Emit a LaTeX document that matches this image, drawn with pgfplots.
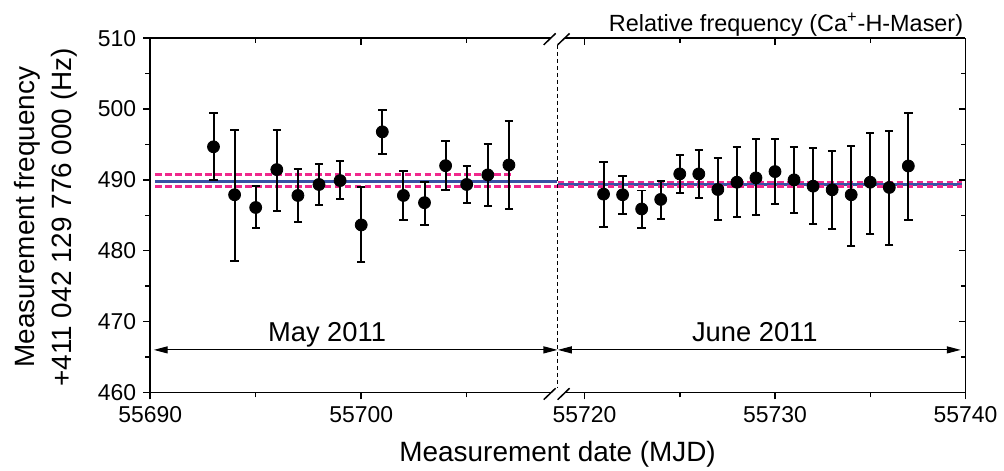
\documentclass[border=0pt]{standalone}
\usepackage{fontspec}
\setmainfont{Liberation Sans}
\usepackage{pgfplots}
\usepackage{pgfplotstable}
\pgfplotsset{compat=1.18}
\usetikzlibrary{arrows.meta}

\definecolor{meanblue}{HTML}{3A52A4}
\definecolor{sdpink}{HTML}{F0288C}

\newcommand\tickfont{\fontsize{11.5}{13}\selectfont}
\newcommand\labfont{\fontsize{14}{16}\selectfont}
\newcommand\monthfont{\fontsize{13.7}{16}\selectfont}
\newcommand\titlefont{\fontsize{11.75}{13}\selectfont}

% May 2011 measurements
\pgfplotstableread{
x y ep em
55693 494.67 4.73 4.67
55694 487.90 9.20 9.33
55695 486.10 2.97 2.92
55696 491.45 5.65 5.80
55697 487.80 3.74 3.73
55698 489.35 2.89 2.90
55699 489.90 2.76 2.61
55700 483.64 5.38 5.30
55701 496.78 3.12 3.14
55702 487.80 3.51 3.41
55703 486.78 2.89 3.09
55704 492.00 3.42 3.45
55705 489.35 2.66 2.62
55706 490.70 4.39 4.39
55707 492.10 6.22 6.21
}\maydata

% June 2011 measurements
\pgfplotstableread{
x y ep em
55721 487.99 4.53 4.58
55722 487.90 2.61 2.76
55723 485.89 2.61 2.67
55724 487.24 2.66 2.71
55725 490.84 2.66 2.66
55726 490.84 3.41 3.46
55727 488.64 4.49 4.34
55728 489.67 4.91 4.90
55729 490.28 5.42 5.28
55730 491.17 4.53 4.63
55731 490.00 4.67 4.63
55732 489.11 5.38 5.37
55733 488.60 5.51 5.56
55734 487.90 6.91 7.21
55735 489.67 7.01 7.30
55736 488.93 7.94 8.06
55737 491.96 7.53 7.61
}\junedata

\pgfplotsset{
  brk/.style={
    scale only axis, anchor=south west, height=177.7pt,
    ymin=460, ymax=510, ytick={460,470,...,510}, minor y tick num=1,
    scaled x ticks=false, scaled y ticks=false,
    /pgf/number format/1000 sep={},
    /pgf/number format/assume math mode=true,
    tick label style={font=\tickfont},
    major tick length=3.5pt, minor tick length=2.5pt,
    axis line style={line width=0.75pt, black},
    tick style={line width=0.75pt, black},
    clip=false,
  },
  % bottom axis: ticks point out, labels below
  brkmain/.style={brk, axis x line*=bottom, xtick pos=lower,
    xticklabel pos=lower, xtick align=outside},
  % top axis: ticks point in, no labels
  brktop/.style={brk, axis x line*=top, axis y line=none, xtick pos=upper,
    xtick align=inside, xticklabels={}, ytick=\empty},
  meanline/.style={meanblue, line width=1.3pt},
  sdline/.style={sdpink, line width=1.3pt, dash pattern=on 3.3pt off 1.7pt},
  datapts/.style={only marks, mark=*, mark size=3pt, black,
    mark options={fill=black},
    error bars/.cd, y dir=both, y explicit,
    error bar style={line width=1pt, black},
    error mark options={rotate=90, mark size=2.1pt, line width=1pt, black}},
}
\tikzset{arr/.style={line width=0.6pt,
  {Triangle[length=7pt,width=3.5pt]}-{Triangle[length=7pt,width=3.5pt]}}}

\begin{document}
\begin{tikzpicture}
\begin{scope}[x=0.5pt,y=-0.5pt]
\useasboundingbox (0,0) rectangle (1004,472);
\end{scope}

% left part (May)
\begin{axis}[brktop, at={(75.35pt,-196.85pt)}, width=204.3pt,
  xmin=55690, xmax=55709.3, xtick={55690,55700}, minor xtick={55695,55705}]
\end{axis}
\begin{axis}[brkmain, at={(75.35pt,-196.85pt)}, width=204.3pt,
  xmin=55690, xmax=55709.3,
  axis y line*=left, ytick pos=left, ytick align=outside,
  xtick={55690,55700}, minor xtick={55695,55705}]
  \addplot[meanline] coordinates {(55690.25,489.74) (55709.3,489.74)};
  \addplot[sdline] coordinates {(55690.25,490.73) (55707.15,490.73)};
  \addplot[sdline] coordinates {(55690.25,489.04) (55709.3,489.04)};
  \addplot[datapts] table[x=x, y=y, y error plus=ep, y error minus=em] {\maydata};
  \draw[arr] (axis cs:55690.17,466) -- (axis cs:55709.3,466);
  \node[anchor=base, font=\monthfont] at (axis cs:55698.38,467.2) {May 2011};
\end{axis}

% right part (June)
\begin{axis}[brktop, at={(279.85pt,-196.85pt)}, width=204.5pt,
  xmin=55718.6, xmax=55740, xtick={55720,55730,55740}, minor xtick={55725,55735}]
\end{axis}
\begin{axis}[brkmain, at={(279.85pt,-196.85pt)}, width=204.5pt,
  xmin=55718.6, xmax=55740,
  axis y line*=right, ytick pos=right, ytick align=inside, yticklabels={},
  xtick={55720,55730,55740}, minor xtick={55725,55735}]
  \addplot[meanline] coordinates {(55718.6,489.36) (55739.84,489.36)};
  \addplot[sdline] coordinates {(55718.6,489.68) (55739.84,489.68)};
  \addplot[sdline] coordinates {(55718.6,489.04) (55739.84,489.04)};
  \addplot[datapts] table[x=x, y=y, y error plus=ep, y error minus=em] {\junedata};
  \draw[arr] (axis cs:55718.6,466) -- (axis cs:55739.75,466);
  \node[anchor=base, font=\monthfont] at (axis cs:55728.94,467.2) {June 2011};
\end{axis}

\begin{scope}[x=0.5pt,y=-0.5pt]
  % axis break
  \draw[line width=0.5pt, dash pattern=on 2pt off 1.5pt] (559.5,45) -- (559.5,390);
  \fill[white] (545.5,401) -- (557.5,389.5) -- (571.5,389.5) -- (559.5,401) -- cycle;
  \draw[line width=0.75pt] (545.5,401) -- (557.5,389.5) (559.5,401) -- (571.5,389.5);
  \fill[white] (545.5,45) -- (557.5,33.5) -- (571.5,33.5) -- (559.5,45) -- cycle;
  \draw[line width=0.75pt] (545.5,45) -- (557.5,33.5) (559.5,45) -- (571.5,33.5);
  % labels
  \node[anchor=base east, font=\titlefont, inner sep=0pt] at (966.7,31.7)
    {Relative frequency (Ca\textsuperscript{+}-H-Maser)};
  \node[anchor=base, font=\labfont, inner sep=0pt] at (559.5,463)
    {Measurement date (MJD)};
  \node[anchor=base, rotate=90, font=\labfont, inner sep=0pt] at (35,218)
    {Measurement frequency};
  \node[anchor=base, rotate=90, font=\labfont, inner sep=0pt] at (72,218)
    {+411 042 129 776 000 (Hz)};
\end{scope}
\end{tikzpicture}
\end{document}
